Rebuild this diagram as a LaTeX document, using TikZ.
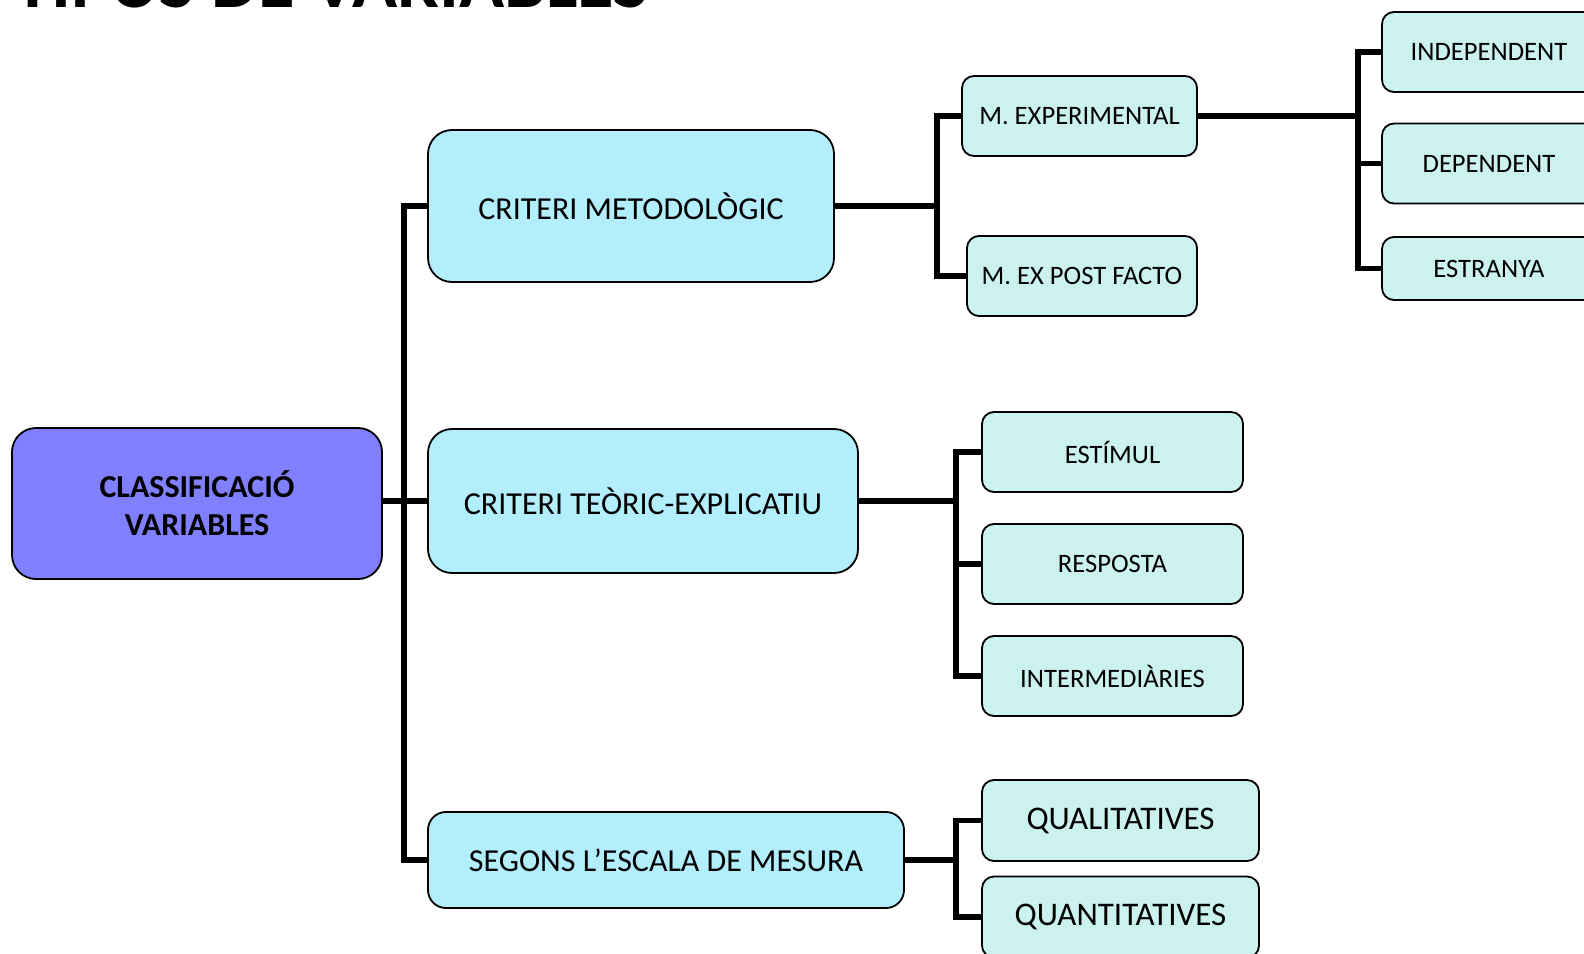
\documentclass[tikz,border=0pt]{standalone}
\usepackage{fontspec}
\setmainfont{Carlito}
\usepackage{tikz}
\definecolor{rootblue}{RGB}{128,128,255}
\definecolor{critblue}{RGB}{179,238,252}
\definecolor{leafcyan}{RGB}{204,242,240}
\tikzset{
  BaseNode/.style = {align=center, inner sep=2pt, text centered, rectangle, draw=black, line width=0.9pt},
  TitleNode/.style = {inner sep=0pt, font=\fontsize{37.3}{40}\selectfont\bfseries},
  RootNode/.style = {BaseNode, fill=rootblue, rounded corners=12pt, minimum width=185pt, minimum height=75.5pt, font=\fontsize{16}{19}\selectfont\bfseries},
  CritNode/.style = {BaseNode, fill=critblue, rounded corners=12pt, font=\fontsize{16}{19}\selectfont},
  LeafNode/.style = {BaseNode, fill=leafcyan, rounded corners=6pt, minimum height=40pt, font=\fontsize{13.3}{15}\selectfont},
  BigLeafNode/.style = {LeafNode, minimum width=138.5pt, minimum height=40.5pt, font=\fontsize{16.5}{19}\selectfont},
  Link/.style = {line width=2.6pt},
}

\begin{document}
\begin{tikzpicture}[x=0.5pt, y=-0.5pt]
    \useasboundingbox (0,0) rectangle (1584,953);
    \clip (0,0) rectangle (1584,953);
    \node [TitleNode, anchor=base west] (title) at (14,7) {TIPUS DE VARIABLES};
    % left part
    \node [RootNode] (root) at (197,503.5) {CLASSIFICACIÓ\\VARIABLES};
    \node [CritNode, minimum width=203pt, minimum height=76pt] (cm) at (631,206) {CRITERI METODOLÒGIC};
    \node [CritNode, minimum width=215pt, minimum height=72pt] (ct) at (643,501) {CRITERI TEÒRIC-EXPLICATIU};
    \node [CritNode, minimum width=238pt, minimum height=48pt, rounded corners=9pt] (se) at (666,860) {SEGONS L’ESCALA DE MESURA};
    % leaves
    \node [LeafNode, minimum width=117.5pt] (me) at (1079.5,116) {M. EXPERIMENTAL};
    \node [LeafNode, minimum width=115pt] (mp) at (1082,276) {M. EX POST FACTO};
    \node [LeafNode, minimum width=107pt] (ind) at (1489,52) {INDEPENDENT};
    \node [LeafNode, minimum width=107pt] (dep) at (1489,163.5) {DEPENDENT};
    \node [LeafNode, minimum width=107pt, minimum height=31.5pt] (est) at (1489,268.5) {ESTRANYA};
    \node [LeafNode, minimum width=130.5pt] (stim) at (1112.5,452) {ESTÍMUL};
    \node [LeafNode, minimum width=130.5pt] (resp) at (1112.5,564) {RESPOSTA};
    \node [LeafNode, minimum width=130.5pt] (inter) at (1112.5,676) {INTERMEDIÀRIES};
    \node [BigLeafNode] (qual) at (1120.5,820.5) {QUALITATIVES};
    \node [BigLeafNode] (quan) at (1120.5,917) {QUANTITATIVES};
    % joints
    \coordinate (trunk) at (404,501);
    \coordinate (jcm) at (937,206);
    \coordinate (jme) at (1358,116);
    \coordinate (jct) at (956,501);
    \coordinate (jse) at (956,860);
    % links
    \draw [Link] (root.east |- ct) -- (ct);
    \draw [Link] (cm.west) -| (trunk) |- (se.west);
    \draw [Link] (cm.east) -- (jcm);
    \draw [Link] (me.west) -| (jcm) |- (mp.west);
    \draw [Link] (me.east) -- (jme);
    \draw [Link] (ind.west) -| (jme) |- (est.west);
    \draw [Link] (dep.west) -- (dep.west -| jme);
    \draw [Link] (ct.east) -- (jct);
    \draw [Link] (stim.west) -| (jct) |- (inter.west);
    \draw [Link] (resp.west) -- (resp.west -| jct);
    \draw [Link] (se.east) -- (jse);
    \draw [Link] (qual.west) -| (jse) |- (quan.west);
\end{tikzpicture}
\end{document}
